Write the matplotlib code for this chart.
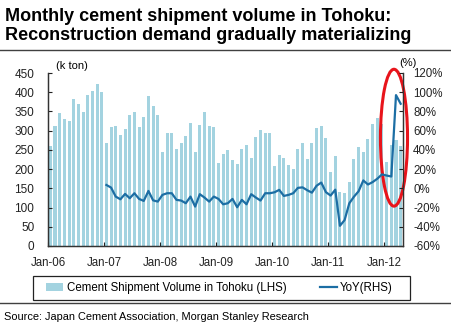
import numpy as np
import matplotlib
matplotlib.use("Agg")
import matplotlib.pyplot as plt
from matplotlib.patches import Ellipse, Patch, Rectangle
from matplotlib.lines import Line2D

plt.rcParams['font.family'] = ['Liberation Sans', 'DejaVu Sans']

# monthly shipment volume in Tohoku (k ton), Jan-06 .. Apr-12
ship_2006 = [260, 312, 346, 331, 326, 383, 369, 349, 393, 403, 421, 401]
ship_2007 = [267, 310, 312, 290, 305, 342, 348, 309, 335, 391, 365, 342]
ship_2008 = [245, 293, 294, 252, 267, 286, 320, 245, 315, 349, 313, 310]
ship_2009 = [216, 240, 250, 225, 214, 252, 264, 230, 284, 302, 295, 293]
ship_2010 = [208, 236, 230, 210, 200, 252, 267, 226, 268, 307, 312, 280]
ship_2011 = [193, 235, 140, 137, 166, 227, 257, 245, 278, 317, 333, 318]
ship_2012 = [218, 262, 276, 260]

# YoY change (%), Jan-07 .. Apr-12
yoy_2007 = [3.5, 0.8, -8.6, -11.4, -5.8, -10.3, -5.1, -11.0, -13.1, -2.7, -12.5, -13.8]
yoy_2008 = [-6.8, -5.1, -5.1, -12.0, -12.7, -15.5, -8.6, -19.0, -6.1, -9.6, -13.8, -8.6]
yoy_2009 = [-11.0, -16.6, -15.5, -11.0, -19.7, -12.0, -16.6, -6.1, -9.6, -12.7, -5.1, -5.1]
yoy_2010 = [-4.1, -1.6, -7.9, -6.8, -5.1, 0.5, 1.0, -2.0, -4.5, 2.7, 6.0, -4.0]
yoy_2011 = [-7.5, -1.4, -39.0, -33.0, -15.6, -8.7, -3.0, 8.2, 4.0, 6.5, 10.0, 14.5]
yoy_2012 = [13.3, 12.3, 97.0, 88.0]

year_labels = ['Jan-06', 'Jan-07', 'Jan-08', 'Jan-09', 'Jan-10', 'Jan-11', 'Jan-12']

ship = ship_2006 + ship_2007 + ship_2008 + ship_2009 + ship_2010 + ship_2011 + ship_2012
yoy = yoy_2007 + yoy_2008 + yoy_2009 + yoy_2010 + yoy_2011 + yoy_2012

n = len(ship)
x_bar = np.arange(n) + 0.5
x_yoy = x_bar[12:]

bar_col = '#A3D3E0'
line_col = '#1C6EA4'

W, H = 451, 326
fig = plt.figure(figsize=(W / 100, H / 100), dpi=100)
ax = fig.add_axes([48 / W, 1 - 246 / H, (403 - 48) / W, (246 - 73) / H])

ax.bar(x_bar, ship, width=0.65, color=bar_col, linewidth=0)
ax.set_xlim(0, n)
ax.set_ylim(0, 450)
ax.set_yticks(np.arange(0, 451, 50))
ax.set_xticks(np.arange(0, n, 12))
ax.set_xticklabels(year_labels)

ax2 = ax.twinx()
ax2.plot(x_yoy, yoy, color=line_col, linewidth=1.6)
ax2.set_ylim(-60, 120)
ax2.set_yticks(np.arange(-60, 121, 20))
ax2.set_yticklabels([f'{v}%' for v in range(-60, 121, 20)])

for a in (ax, ax2):
    a.spines['top'].set_visible(False)
    for s in a.spines.values():
        s.set_color('#333333')
        s.set_linewidth(0.9)
ax.tick_params(axis='y', direction='in', length=3, pad=9.9, labelsize=8.5, colors='#222222')
ax.tick_params(axis='x', direction='in', length=3, pad=8, labelsize=8.3, colors='#222222')
ax2.tick_params(axis='y', direction='in', length=3, pad=7.2, labelsize=8.3, colors='#222222')

fig.text(72 / W, 1 - 66 / H, '(k ton)', fontsize=8, ha='center', va='center')
fig.text(408 / W, 1 - 63 / H, '(%)', fontsize=8, ha='center', va='center')

# red highlight around latest months
ell = Ellipse((74.07, 281.7), width=5.8, height=356, fill=False, edgecolor='#E8141B',
              linewidth=2.2, clip_on=False, zorder=5)
ax.add_patch(ell)

# title and rules
fig.text(5 / W, 1 - 21 / H, 'Monthly cement shipment volume in Tohoku:', fontsize=13,
         fontweight='bold', va='baseline')
fig.text(5 / W, 1 - 40 / H, 'Reconstruction demand gradually materializing', fontsize=13,
         fontweight='bold', va='baseline')
fig.add_artist(Line2D([0, 1], [1 - 50 / H, 1 - 50 / H], color='#404040', linewidth=1.0))
fig.add_artist(Line2D([0, 1], [1 - 303 / H, 1 - 303 / H], color='#404040', linewidth=1.0))

# legend: frame drawn separately so the entries can sit inside it freely
fig.add_artist(Rectangle((32.7 / W, 1 - 300 / H), 377 / W, 23.7 / H, transform=fig.transFigure,
                         fill=False, edgecolor='#222222', linewidth=0.9))
handles = [Patch(facecolor=bar_col, edgecolor='none'),
           Line2D([], [], color=line_col, linewidth=1.6)]
labels = ['Cement Shipment Volume in Tohoku (LHS)', 'YoY(RHS)']
fig.legend(handles, labels, loc='center left', ncol=2, mode='expand',
           bbox_to_anchor=(46 / W, 1 - 288 / H, 347 / W, 0),
           fontsize=8.3, frameon=False, borderpad=0,
           handlelength=1.5, handletextpad=0.3, borderaxespad=0)

fig.text(4 / W, 1 - 317 / H, 'Source: Japan Cement Association, Morgan Stanley Research',
         fontsize=7.9, va='center')

fig.savefig('out.png', dpi=100)
